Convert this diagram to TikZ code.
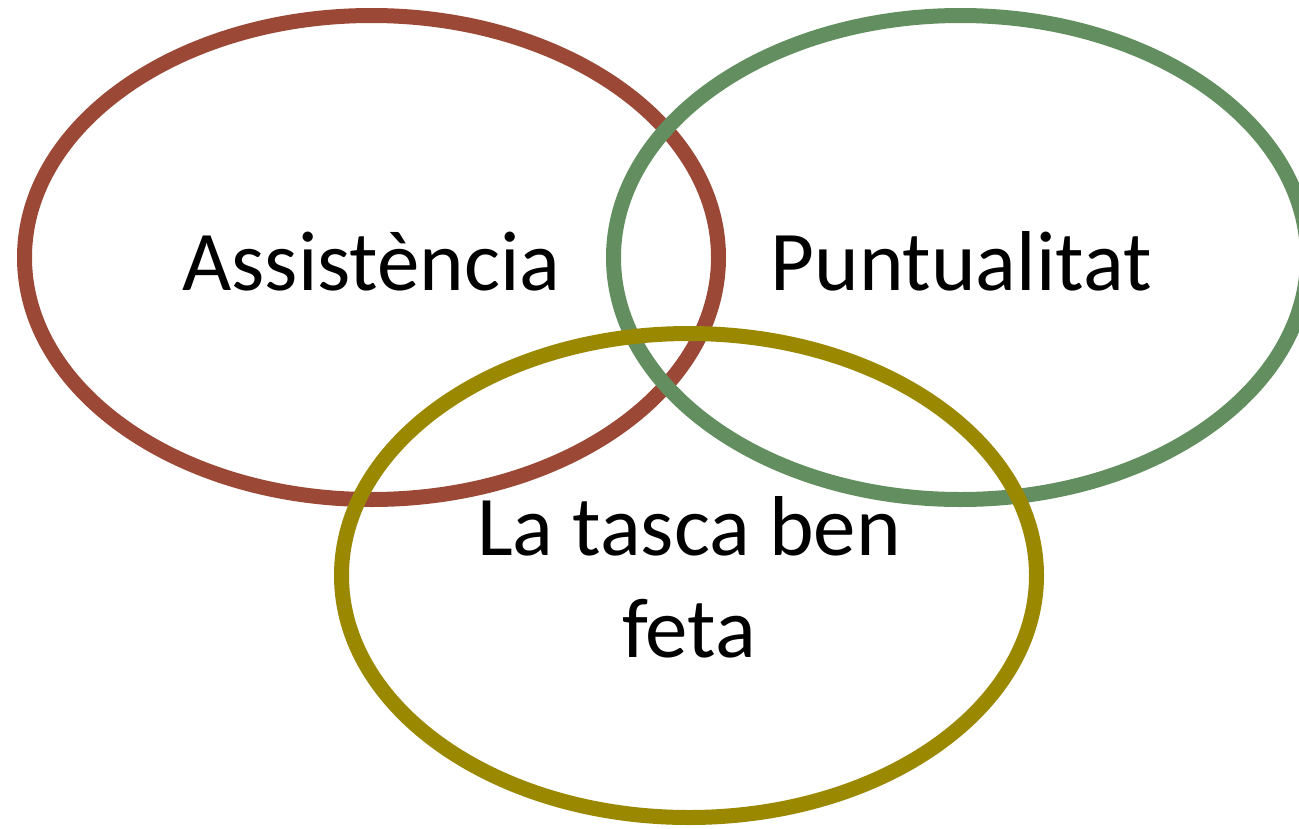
\documentclass[tikz,border=0pt]{standalone}
\usepackage{fontspec}
\setmainfont{Carlito}
\usepackage{tikz}

\definecolor{vennred}{RGB}{155,73,54}
\definecolor{venngreen}{RGB}{99,143,96}
\definecolor{vennolive}{RGB}{154,136,0}

\begin{document}
\begin{tikzpicture}[x=1pt,y=-1pt,
    ring/.style={line width=15pt},
    lbl/.style={font=\fontsize{85}{102}\selectfont,align=center,inner sep=0pt}]
  \useasboundingbox (0,0) rectangle (1299,828);
  \clip (0,0) rectangle (1299,828);
  \coordinate (A) at (371.5,257.5);
  \coordinate (P) at (960.5,257.5);
  \coordinate (T) at (689,575.5);
  \draw[ring,vennred] (A) ellipse [x radius=347, y radius=242];
  \draw[ring,venngreen] (P) ellipse [x radius=347, y radius=242];
  \draw[ring,vennolive] (T) ellipse [x radius=347.5, y radius=242];
  \node[lbl,anchor=base] (assist) at (371.5,290) {Assistència};
  \node[lbl,anchor=base] (puntual) at (961,290) {Puntualitat};
  \node[lbl,anchor=base] (tasca) at (689,657) {La tasca ben\\feta};
\end{tikzpicture}
\end{document}
